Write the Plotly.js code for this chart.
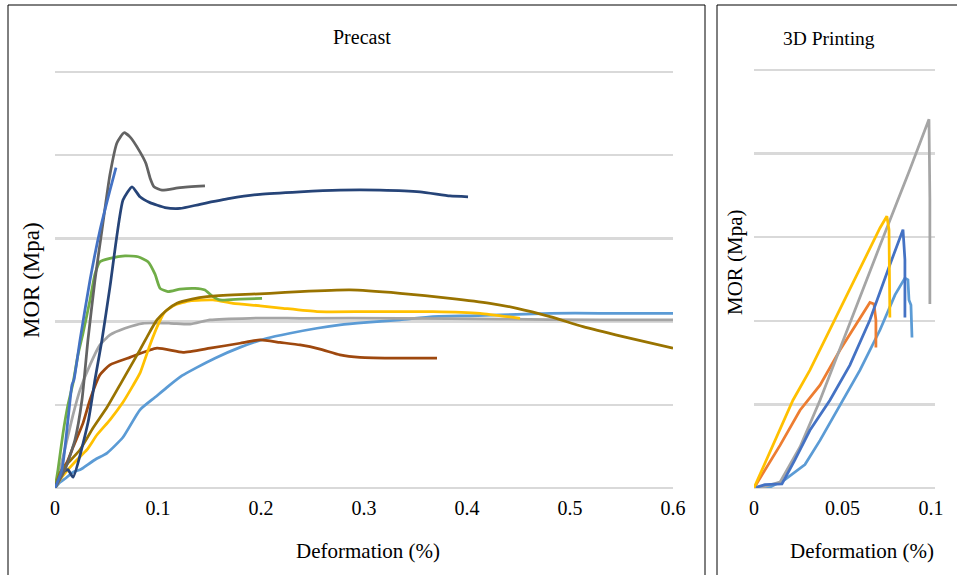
<!DOCTYPE html>
<html>
<head>
<meta charset="utf-8">
<script src="https://cdn.plot.ly/plotly-3.0.1.min.js"></script>
<style>html,body{margin:0;padding:0;background:#fff;}#chart{width:957px;height:575px;}</style>
</head>
<body>
<div id="chart"></div>
<script>
// ---------- Precast (left panel) ----------
const pcBlueX = [0, 0.0068, 0.0126, 0.0165, 0.0184, 0.0243, 0.034, 0.0437, 0.0534, 0.0592];
const pcBlueY = [0, 0.22, 0.82, 1.24, 1.30, 1.78, 2.50, 3.10, 3.58, 3.85];

const pcDarkGrayX = [0, 0.0097, 0.0194, 0.0262, 0.032, 0.0388, 0.0456, 0.0534, 0.0602, 0.067, 0.0728, 0.0825, 0.0883, 0.0922, 0.0961, 0.1039, 0.1214, 0.1456];
const pcDarkGrayY = [0, 0.22, 0.58, 1.06, 1.78, 2.50, 3.10, 3.77, 4.15, 4.27, 4.22, 4.04, 3.90, 3.73, 3.62, 3.58, 3.61, 3.63];

const pcNavyX = [0, 0.0078, 0.0126, 0.0175, 0.0321, 0.0388, 0.0456, 0.0534, 0.066, 0.0748, 0.0825, 0.0922, 0.1068, 0.1214, 0.1408, 0.1699, 0.199, 0.2379, 0.2767, 0.3155, 0.3544, 0.3835, 0.401];
const pcNavyY = [0, 0.19, 0.22, 0.13, 0.79, 1.30, 1.78, 2.42, 3.46, 3.62, 3.50, 3.43, 3.37, 3.36, 3.41, 3.48, 3.53, 3.56, 3.58, 3.58, 3.56, 3.51, 3.50];

const pcGreenX = [0, 0.0029, 0.0078, 0.0126, 0.0175, 0.0223, 0.0272, 0.034, 0.0388, 0.0437, 0.0534, 0.068, 0.0806, 0.0903, 0.0971, 0.102, 0.1097, 0.1214, 0.1359, 0.1456, 0.1524, 0.1602, 0.1796, 0.2010];
const pcGreenY = [0, 0.22, 0.66, 1.00, 1.26, 1.60, 1.86, 2.26, 2.57, 2.72, 2.76, 2.79, 2.78, 2.72, 2.57, 2.40, 2.36, 2.39, 2.40, 2.38, 2.31, 2.26, 2.27, 2.28];

const pcLightGrayX = [0, 0.0049, 0.0117, 0.0175, 0.0243, 0.034, 0.0437, 0.0534, 0.068, 0.0854, 0.1117, 0.1311, 0.1505, 0.1893, 0.2379, 0.335, 0.432, 0.5291, 0.6];
const pcLightGrayY = [0, 0.22, 0.58, 0.88, 1.18, 1.48, 1.72, 1.84, 1.92, 1.98, 1.98, 1.97, 2.02, 2.04, 2.04, 2.04, 2.03, 2.02, 2.02];

const pcBrownX = [0, 0.0068, 0.0117, 0.0175, 0.0272, 0.034, 0.0437, 0.0534, 0.0728, 0.099, 0.1243, 0.1505, 0.1796, 0.199, 0.2184, 0.2379, 0.2573, 0.2767, 0.2961, 0.335, 0.3709];
const pcBrownY = [0, 0.22, 0.31, 0.49, 0.78, 1.06, 1.36, 1.48, 1.57, 1.68, 1.63, 1.68, 1.74, 1.78, 1.75, 1.72, 1.67, 1.60, 1.57, 1.56, 1.56];

const pcYellowX = [0, 0.0049, 0.0126, 0.0214, 0.0311, 0.0408, 0.0534, 0.066, 0.0757, 0.0825, 0.0922, 0.1, 0.1068, 0.1165, 0.1311, 0.1534, 0.1728, 0.199, 0.2214, 0.2544, 0.3029, 0.367, 0.4126, 0.4515];
const pcYellowY = [0, 0.10, 0.22, 0.34, 0.46, 0.64, 0.82, 1.03, 1.23, 1.38, 1.72, 1.96, 2.12, 2.20, 2.25, 2.26, 2.22, 2.19, 2.16, 2.12, 2.12, 2.12, 2.10, 2.04];

const pcOliveX = [0, 0.0049, 0.0126, 0.0243, 0.0369, 0.0505, 0.0631, 0.0728, 0.0825, 0.0922, 0.099, 0.1087, 0.1184, 0.133, 0.1476, 0.1728, 0.2087, 0.2379, 0.2864, 0.335, 0.3835, 0.4223, 0.4485, 0.4806, 0.5126, 0.5515, 0.6];
const pcOliveY = [0, 0.18, 0.30, 0.46, 0.72, 0.97, 1.24, 1.45, 1.66, 1.88, 2.02, 2.14, 2.22, 2.27, 2.30, 2.32, 2.34, 2.36, 2.38, 2.34, 2.28, 2.22, 2.16, 2.06, 1.94, 1.82, 1.68];

const pcLightBlueX = [0, 0.0049, 0.0107, 0.0175, 0.0243, 0.0272, 0.0388, 0.0505, 0.066, 0.0825, 0.0971, 0.1087, 0.1233, 0.1379, 0.1553, 0.1796, 0.2058, 0.2282, 0.2544, 0.2767, 0.3029, 0.335, 0.367, 0.4029, 0.432, 0.4806, 0.5291, 0.6];
const pcLightBlueY = [0, 0.07, 0.12, 0.19, 0.22, 0.24, 0.34, 0.42, 0.61, 0.94, 1.09, 1.21, 1.35, 1.45, 1.56, 1.69, 1.80, 1.86, 1.92, 1.96, 1.99, 2.02, 2.06, 2.07, 2.08, 2.10, 2.10, 2.10];

// ---------- 3D Printing (right panel) ----------
const p3GrayX = [0, 0.0062, 0.0147, 0.026, 0.0373, 0.0542, 0.0712, 0.0881, 0.0989, 0.0994, 0.0994];
const p3GrayY = [0, 0.02, 0.07, 0.49, 1.05, 1.98, 2.90, 3.81, 4.41, 3.45, 2.20];

const p3YellowX = [0, 0.013, 0.022, 0.0316, 0.0429, 0.0542, 0.0655, 0.0712, 0.0751, 0.0763, 0.0768];
const p3YellowY = [0, 0.61, 1.05, 1.41, 1.89, 2.37, 2.85, 3.11, 3.25, 3.09, 2.04];

const p3OrangeX = [0, 0.0147, 0.026, 0.0373, 0.0486, 0.0599, 0.0655, 0.0678, 0.0689, 0.0689];
const p3OrangeY = [0, 0.51, 0.93, 1.23, 1.65, 2.04, 2.22, 2.20, 2.01, 1.68];

const p3BlueX = [0, 0.0062, 0.0158, 0.0232, 0.0316, 0.0429, 0.0542, 0.0655, 0.0768, 0.0842, 0.0853, 0.0853];
const p3BlueY = [0, 0.04, 0.05, 0.34, 0.69, 1.05, 1.47, 2.01, 2.67, 3.09, 2.73, 2.04];

const p3LightBlueX = [0, 0.009, 0.0175, 0.0288, 0.0373, 0.0486, 0.0599, 0.0712, 0.0797, 0.0853, 0.087, 0.0876, 0.0887, 0.0893];
const p3LightBlueY = [0, 0.01, 0.10, 0.28, 0.57, 0.99, 1.41, 1.89, 2.31, 2.51, 2.49, 2.25, 2.19, 1.80];

const leftTicks = [0, 0.1, 0.2, 0.3, 0.4, 0.5, 0.6];
const rightTicks = [0, 0.05, 0.1];

const W = 957, H = 575;
const px = v => v / W;
const py = v => 1 - v / H;

function line(x, y, color, xa, ya, smooth) {
  const ln = {color: color, width: 2.75};
  if (smooth) { ln.shape = 'spline'; ln.smoothing = 0.5; }
  return {x: x, y: y, type: 'scatter', mode: 'lines', xaxis: xa, yaxis: ya,
    line: ln, hoverinfo: 'skip', showlegend: false};
}

const traces = [
  line(pcLightBlueX, pcLightBlueY, '#5B9BD5', 'x', 'y', true),
  line(pcLightGrayX, pcLightGrayY, '#A5A5A5', 'x', 'y', true),
  line(pcBrownX, pcBrownY, '#9E480E', 'x', 'y', true),
  line(pcYellowX, pcYellowY, '#FFC000', 'x', 'y', true),
  line(pcGreenX, pcGreenY, '#70AD47', 'x', 'y', true),
  line(pcOliveX, pcOliveY, '#997300', 'x', 'y', true),
  line(pcNavyX, pcNavyY, '#264478', 'x', 'y', true),
  line(pcDarkGrayX, pcDarkGrayY, '#636363', 'x', 'y', true),
  line(pcBlueX, pcBlueY, '#4472C4', 'x', 'y', true),
  line(p3LightBlueX, p3LightBlueY, '#5B9BD5', 'x2', 'y2', false),
  line(p3OrangeX, p3OrangeY, '#ED7D31', 'x2', 'y2', false),
  line(p3GrayX, p3GrayY, '#A5A5A5', 'x2', 'y2', false),
  line(p3BlueX, p3BlueY, '#4472C4', 'x2', 'y2', false),
  line(p3YellowX, p3YellowY, '#FFC000', 'x2', 'y2', false)
];

const serif = 'Liberation Serif, Times New Roman, serif';
const tickFont = {family: serif, size: 20, color: '#000'};
const yBase = {range: [0, 5.03], dtick: 1, showgrid: true, gridcolor: '#d9d9d9', gridwidth: 2.5,
  zeroline: true, zerolinecolor: '#d9d9d9', zerolinewidth: 2.5, showticklabels: false,
  ticks: '', showline: false, fixedrange: true};

const layout = {
  width: W, height: H,
  margin: {l: 0, r: 0, t: 0, b: 0},
  paper_bgcolor: '#fff', plot_bgcolor: '#fff',
  showlegend: false,
  xaxis: {domain: [px(55), px(673)], range: [0, 0.6], anchor: 'y', tickvals: leftTicks,
    ticktext: leftTicks.map(String), showgrid: false, zeroline: false, showline: false, ticks: '',
    tickfont: tickFont, ticklabelstandoff: 6},
  yaxis: Object.assign({}, yBase, {domain: [py(488), py(488 - 5.03 * 83.2)], anchor: 'x'}),
  xaxis2: {domain: [px(754), px(935)], range: [0, 0.1023], anchor: 'y2', tickvals: rightTicks,
    ticktext: rightTicks.map(String), showgrid: false, zeroline: false, showline: false, ticks: '',
    tickfont: tickFont, ticklabelstandoff: 6},
  yaxis2: Object.assign({}, yBase, {domain: [py(488), py(488 - 5.03 * 83.6)], anchor: 'x2'}),
  shapes: [
    {type: 'rect', xref: 'paper', yref: 'paper', x0: px(8), x1: px(705), y0: -0.02, y1: py(5),
      line: {color: '#000', width: 1}},
    {type: 'rect', xref: 'paper', yref: 'paper', x0: px(717), x1: 1.02, y0: -0.02, y1: py(5),
      line: {color: '#000', width: 1}}
  ],
  annotations: [
    {text: 'Precast', xref: 'paper', yref: 'paper', x: px(362), y: py(37), showarrow: false,
      xanchor: 'center', yanchor: 'middle', font: {family: serif, size: 20, color: '#000'}},
    {text: '3D Printing', xref: 'paper', yref: 'paper', x: px(829), y: py(39), showarrow: false,
      xanchor: 'center', yanchor: 'middle', font: {family: serif, size: 19.5, color: '#000'}},
    {text: 'MOR (Mpa)', xref: 'paper', yref: 'paper', x: px(31), y: py(280), showarrow: false, textangle: -90,
      xanchor: 'center', yanchor: 'middle', font: {family: serif, size: 23, color: '#000'}},
    {text: 'MOR (Mpa)', xref: 'paper', yref: 'paper', x: px(735), y: py(262), showarrow: false, textangle: -90,
      xanchor: 'center', yanchor: 'middle', font: {family: serif, size: 21, color: '#000'}},
    {text: 'Deformation (%)', xref: 'paper', yref: 'paper', x: px(368), y: py(551), showarrow: false,
      xanchor: 'center', yanchor: 'middle', font: {family: serif, size: 21, color: '#000'}},
    {text: 'Deformation (%)', xref: 'paper', yref: 'paper', x: px(862), y: py(551), showarrow: false,
      xanchor: 'center', yanchor: 'middle', font: {family: serif, size: 21, color: '#000'}}
  ]
};

Plotly.newPlot('chart', traces, layout, {staticPlot: true, displayModeBar: false});
</script>
</body>
</html>
